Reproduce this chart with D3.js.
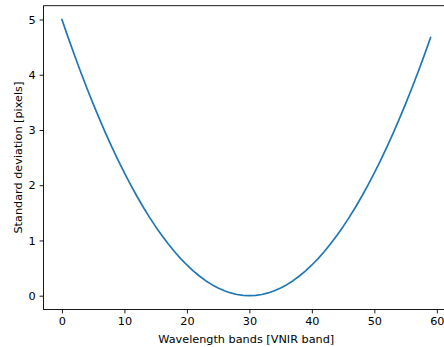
<!DOCTYPE html>
<html><head><meta charset="utf-8">
<script src="https://cdn.jsdelivr.net/npm/d3@7"></script>
<style>
html,body{margin:0;padding:0;background:#fff;overflow:hidden;}
svg{display:block;}
text{font-family:"DejaVu Sans",sans-serif;}
</style></head>
<body>
<svg id="c" width="444" height="347"></svg>
<script>
const bands = d3.range(0, 60);
const stdValues = [5.00,4.672,4.356,4.05,3.756,3.472,3.2,2.939,2.689,2.45,2.222,2.006,1.8,1.606,1.422,1.25,1.089,0.939,0.8,0.672,0.556,0.45,0.356,0.272,0.2,0.139,0.089,0.05,0.022,0.006,0,0.006,0.022,0.05,0.089,0.139,0.2,0.272,0.356,0.45,0.556,0.672,0.8,0.939,1.089,1.25,1.422,1.606,1.8,2.006,2.222,2.45,2.689,2.939,3.2,3.472,3.756,4.05,4.356,4.672];
const xTicks = [0,10,20,30,40,50,60];
const yTicks = [0,1,2,3,4,5];
const xLabel = "Wavelength bands [VNIR band]";
const yLabel = "Standard deviation [pixels]";

const FS = "11.25px";
const svg = d3.select("#c");
const L = 43.5, R = 449, T = 5.7, B = 309.5;
const x = d3.scaleLinear().domain([-2.95, 61.95]).range([L, R]);
const y = d3.scaleLinear().domain([-0.25, 5.25]).range([B, T]);

const line = d3.line().x((d,i)=>x(bands[i])).y(d=>y(d));
svg.append("path").datum(stdValues).attr("d", line)
  .attr("fill","none").attr("stroke","#1f77b4").attr("stroke-width",1.7)
  .attr("stroke-linejoin","round").attr("stroke-linecap","square");

const xAxis = svg.append("g").attr("transform",`translate(0,${B})`)
  .call(d3.axisBottom(x).tickValues(xTicks).tickSize(3.9).tickPadding(3.9).tickFormat(d3.format("d")));
const yAxis = svg.append("g").attr("transform",`translate(${L},0)`)
  .call(d3.axisLeft(y).tickValues(yTicks).tickSize(3.9).tickPadding(3.9).tickFormat(d3.format("d")));
[xAxis,yAxis].forEach(g=>{
  g.select(".domain").remove();
  g.selectAll(".tick line").attr("stroke","#000").attr("stroke-width",0.9);
  g.selectAll(".tick text").attr("fill","#000").style("font-size",FS).style("font-family","DejaVu Sans");
});

// spines
svg.append("rect").attr("x",L).attr("y",T).attr("width",R-L).attr("height",B-T)
  .attr("fill","none").attr("stroke","#000").attr("stroke-width",0.9);

svg.append("text").attr("x",(L+R)/2).attr("y",343).attr("text-anchor","middle")
  .style("font-size",FS).attr("fill","#000").text(xLabel);
svg.append("text").attr("transform",`translate(21.7,${(T+B)/2}) rotate(-90)`).attr("text-anchor","middle")
  .style("font-size",FS).attr("fill","#000").text(yLabel);
</script>
</body></html>
